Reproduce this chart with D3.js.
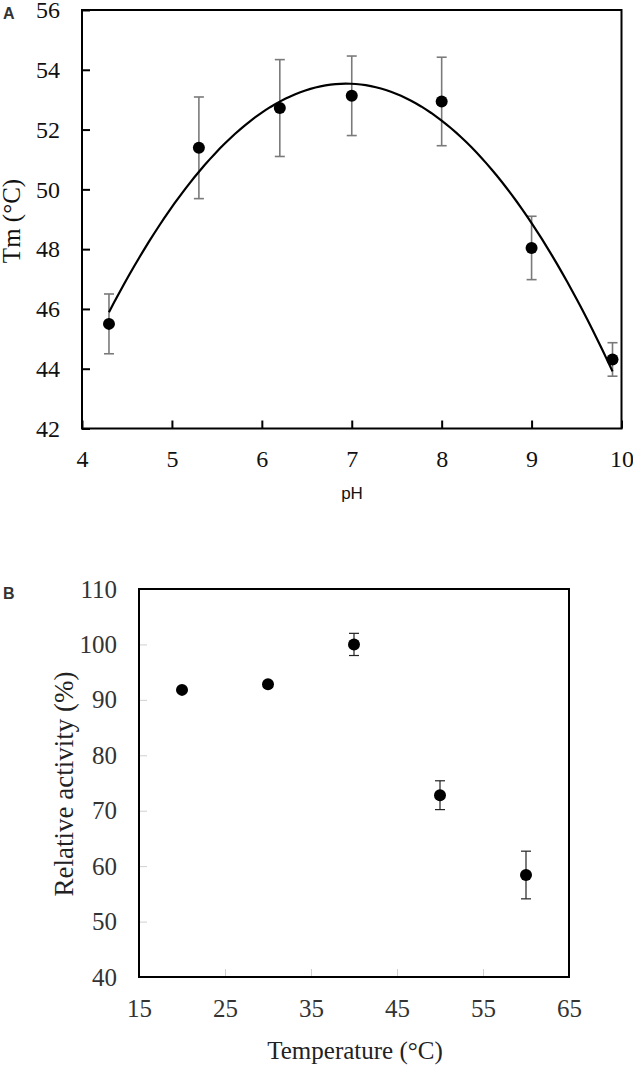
<!DOCTYPE html>
<html><head><meta charset="utf-8">
<script src="https://cdn.jsdelivr.net/npm/d3@7"></script>
<style>
html,body{margin:0;padding:0;background:#fff;}
svg{display:block;}
</style></head>
<body>
<svg id="c" width="633" height="1065"></svg>
<script>
// Panel A data
const phValues = [4.3, 5.3, 6.2, 7.0, 8.0, 9.0, 9.9];
const tmValues = [45.5, 51.39, 52.72, 53.13, 52.94, 48.04, 44.31];
const tmErrors = [1.0, 1.7, 1.62, 1.33, 1.48, 1.06, 0.56];
const phTicks = [4, 5, 6, 7, 8, 9, 10];
const tmTicks = [42, 44, 46, 48, 50, 52, 54, 56];

// Panel B data
const tempValues = [20, 30, 40, 50, 60];
const activityValues = [91.8, 92.8, 100.0, 72.8, 58.4];
const activityErrors = [0.4, 0.5, 2.0, 2.6, 4.3];
const tempTicks = [15, 25, 35, 45, 55, 65];
const activityTicks = [40, 50, 60, 70, 80, 90, 100, 110];

const svg = d3.select("#c");
const serif = "'Liberation Serif','Times New Roman',serif";
const sans = "'Liberation Sans',Arial,sans-serif";

// ---------- Panel A ----------
{
  const L = 82, R = 621.5, T = 10, B = 428.5;
  const x = d3.scaleLinear().domain([4, 10]).range([L, R]);
  const y = d3.scaleLinear().domain([42, 56]).range([B, T]);
  const g = svg.append("g");

  // quadratic least-squares trendline fitted to the data
  const n = phValues.length;
  let S = [0,0,0,0,0], Sy = [0,0,0];
  phValues.forEach((xv, i) => {
    for (let k = 0; k < 5; k++) S[k] += Math.pow(xv, k);
    for (let k = 0; k < 3; k++) Sy[k] += Math.pow(xv, k) * tmValues[i];
  });
  const M = [[S[0],S[1],S[2],Sy[0]],[S[1],S[2],S[3],Sy[1]],[S[2],S[3],S[4],Sy[2]]];
  for (let i = 0; i < 3; i++) {
    for (let j = i+1; j < 3; j++) {
      const f = M[j][i] / M[i][i];
      for (let k = i; k < 4; k++) M[j][k] -= f * M[i][k];
    }
  }
  const coef = [0,0,0];
  for (let i = 2; i >= 0; i--) {
    let s = M[i][3];
    for (let k = i+1; k < 3; k++) s -= M[i][k] * coef[k];
    coef[i] = s / M[i][i];
  }
  const fit = d3.range(0, 101).map(i => {
    const xv = phValues[0] + (phValues[n-1] - phValues[0]) * i / 100;
    return [xv, coef[0] + coef[1]*xv + coef[2]*xv*xv];
  });

  g.append("rect").attr("x", L).attr("y", T).attr("width", R-L).attr("height", B-T)
    .attr("fill", "none").attr("stroke", "#000").attr("stroke-width", 2);

  const ya = g.append("g").attr("transform", `translate(${L},0)`)
    .call(d3.axisLeft(y).tickValues(tmTicks).tickSize(-8).tickPadding(22).tickFormat(d3.format("d")));
  ya.select(".domain").remove();
  ya.selectAll("line").attr("stroke", "#000").attr("stroke-width", 2);
  ya.selectAll("text").style("font-family", serif).style("font-size", "24px").attr("fill", "#111");

  const xa = g.append("g").attr("transform", `translate(0,${B})`)
    .call(d3.axisBottom(x).tickValues(phTicks).tickSize(-8).tickPadding(21).tickFormat(d3.format("d")));
  xa.select(".domain").remove();
  xa.selectAll("line").attr("stroke", "#000").attr("stroke-width", 2);
  xa.selectAll("text").style("font-family", serif).style("font-size", "24px").attr("fill", "#111");

  const eb = g.append("g").attr("stroke", "#7a7a7a").attr("stroke-width", 1.6);
  phValues.forEach((xv, i) => {
    const cx = x(xv), y1 = y(tmValues[i] + tmErrors[i]), y2 = y(tmValues[i] - tmErrors[i]);
    eb.append("line").attr("x1", cx).attr("x2", cx).attr("y1", y1).attr("y2", y2);
    eb.append("line").attr("x1", cx-5).attr("x2", cx+5).attr("y1", y1).attr("y2", y1);
    eb.append("line").attr("x1", cx-5).attr("x2", cx+5).attr("y1", y2).attr("y2", y2);
  });

  g.append("path").datum(fit)
    .attr("d", d3.line().x(d => x(d[0])).y(d => y(d[1])))
    .attr("fill", "none").attr("stroke", "#000").attr("stroke-width", 2.2);

  g.selectAll("circle.a").data(phValues).join("circle")
    .attr("cx", d => x(d)).attr("cy", (d, i) => y(tmValues[i])).attr("r", 6).attr("fill", "#000");

  g.append("text").attr("x", 3).attr("y", 19).text("A")
    .style("font-family", sans).style("font-weight", "bold").style("font-size", "16px").attr("fill", "#333");

  g.append("text").attr("transform", `translate(20,221) rotate(-90)`).attr("text-anchor", "middle")
    .text("Tm (°C)").style("font-family", serif).style("font-size", "25px").attr("fill", "#111");

  g.append("text").attr("x", 352).attr("y", 499).attr("text-anchor", "middle")
    .text("pH").style("font-family", sans).style("font-size", "17px").attr("fill", "#111");
}

// ---------- Panel B ----------
{
  const L = 139, R = 569, T = 589, B = 977;
  const x = d3.scaleLinear().domain([15, 65]).range([L, R]);
  const y = d3.scaleLinear().domain([40, 110]).range([B, T]);
  const g = svg.append("g");

  const ya = g.append("g").attr("transform", `translate(${L},0)`)
    .call(d3.axisLeft(y).tickValues(activityTicks).tickSize(-8).tickPadding(22).tickFormat(d3.format("d")));
  ya.select(".domain").remove();
  ya.selectAll("line").attr("stroke", "#d0d0d0").attr("stroke-width", 1);
  ya.selectAll("text").style("font-family", serif).style("font-size", "25px").attr("fill", "#333");

  const xa = g.append("g").attr("transform", `translate(0,${B})`)
    .call(d3.axisBottom(x).tickValues(tempTicks).tickSize(-8).tickPadding(22).tickFormat(d3.format("d")));
  xa.select(".domain").remove();
  xa.selectAll("line").attr("stroke", "#d0d0d0").attr("stroke-width", 1);
  xa.selectAll("text").style("font-family", serif).style("font-size", "25px").attr("fill", "#333");

  g.append("rect").attr("x", L).attr("y", T).attr("width", R-L).attr("height", B-T)
    .attr("fill", "none").attr("stroke", "#000").attr("stroke-width", 2);

  const eb = g.append("g").attr("stroke", "#222").attr("stroke-width", 1.2);
  tempValues.forEach((xv, i) => {
    const cx = x(xv), y1 = y(activityValues[i] + activityErrors[i]), y2 = y(activityValues[i] - activityErrors[i]);
    eb.append("line").attr("x1", cx).attr("x2", cx).attr("y1", y1).attr("y2", y2);
    eb.append("line").attr("x1", cx-5).attr("x2", cx+5).attr("y1", y1).attr("y2", y1);
    eb.append("line").attr("x1", cx-5).attr("x2", cx+5).attr("y1", y2).attr("y2", y2);
  });

  g.selectAll("circle.b").data(tempValues).join("circle")
    .attr("cx", d => x(d)).attr("cy", (d, i) => y(activityValues[i])).attr("r", 6).attr("fill", "#000");

  g.append("text").attr("x", 3).attr("y", 599).text("B")
    .style("font-family", sans).style("font-weight", "bold").style("font-size", "16px").attr("fill", "#333");

  g.append("text").attr("transform", `translate(73,784) rotate(-90)`).attr("text-anchor", "middle")
    .text("Relative activity (%)").style("font-family", serif).style("font-size", "27px").attr("fill", "#222");

  g.append("text").attr("x", 355).attr("y", 1059).attr("text-anchor", "middle")
    .text("Temperature (°C)").style("font-family", serif).style("font-size", "25px").attr("fill", "#222");
}
</script>
</body></html>
